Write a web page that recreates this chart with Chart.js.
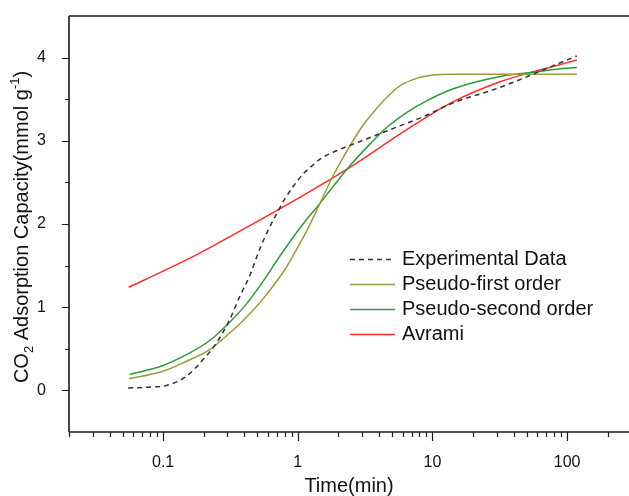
<!DOCTYPE html>
<html>
<head>
<meta charset="utf-8">
<script src="https://cdn.jsdelivr.net/npm/chart.js@4.4.1/dist/chart.umd.min.js"></script>
<style>
html, body { margin: 0; padding: 0; background: #fff; overflow: hidden; }
canvas { display: block; }
</style>
</head>
<body>
<canvas id="canvas-kinetics" width="629" height="496"></canvas>
<script>
// values (time in min, uptake in mmol/g)
var expTime = [0.055, 0.08, 0.106, 0.149, 0.198, 0.249, 0.312, 0.371, 0.44, 0.522, 0.60, 0.695, 0.80, 0.923, 1.094, 1.30, 1.46, 1.94, 2.58, 3.85, 5.73, 8.55, 13.5, 16.9, 26.8, 42.3, 59.5, 83.8, 118];
var expCO2  = [0.03, 0.04, 0.06, 0.17, 0.37, 0.57, 0.85, 1.13, 1.38, 1.70, 1.92, 2.12, 2.30, 2.45, 2.60, 2.71, 2.78, 2.88, 2.96, 3.07, 3.18, 3.29, 3.44, 3.50, 3.60, 3.72, 3.82, 3.92, 4.02];

var pfoTime = [0.0556, 0.0997, 0.149, 0.222, 0.312, 0.416, 0.552, 0.80, 1.0, 1.2, 1.415, 1.83, 2.44, 3.06, 3.63, 4.57, 5.73, 7.63, 10.1, 14.3, 30, 118];
var pfoCO2  = [0.14, 0.23, 0.35, 0.49, 0.69, 0.88, 1.10, 1.45, 1.72, 1.96, 2.20, 2.58, 2.94, 3.19, 3.34, 3.52, 3.66, 3.75, 3.79, 3.80, 3.80, 3.80];

var psoTime = [0.0564, 0.0997, 0.149, 0.222, 0.312, 0.416, 0.552, 0.777, 1.094, 1.415, 1.83, 2.5, 3.43, 4.57, 6.43, 9.05, 13.5, 21.3, 33.6, 53.1, 83.8, 118];
var psoCO2  = [0.19, 0.30, 0.43, 0.60, 0.82, 1.04, 1.31, 1.67, 2.00, 2.22, 2.45, 2.72, 2.96, 3.16, 3.34, 3.48, 3.61, 3.71, 3.78, 3.82, 3.86, 3.88];

var avrTime = [0.0555, 0.0991, 0.187, 0.44, 1.035, 2.44, 5.73, 13.5, 31.8, 63, 118];
var avrCO2  = [1.24, 1.43, 1.65, 1.98, 2.32, 2.68, 3.08, 3.45, 3.71, 3.85, 3.97];

var seriesLabels = ['Experimental Data', 'Pseudo-first order', 'Pseudo-second order', 'Avrami'];
var seriesColors = ['#333333', '#9c9a3a', '#2e9a3c', '#ff2b2b'];

var xMajor = [0.1, 1, 10, 100];
var xMinor = [0.02, 0.03, 0.04, 0.05, 0.06, 0.07, 0.08, 0.09,
              0.2, 0.3, 0.4, 0.5, 0.6, 0.7, 0.8, 0.9,
              2, 3, 4, 5, 6, 7, 8, 9,
              20, 30, 40, 50, 60, 70, 80, 90, 200];
var yMajor = [0, 1, 2, 3, 4];
var yMinor = [0.5, 1.5, 2.5, 3.5];

function toPoints(xs, ys) {
    return xs.map(function (x, i) { return {x: x, y: ys[i]}; });
}

var FONT = '"Liberation Sans", Arial, sans-serif';

var axesPlugin = {
    id: 'axesPlugin',
    afterDraw: function (chart) {
        var ctx = chart.ctx, a = chart.chartArea;
        var xs = chart.scales.x, ys = chart.scales.y;
        ctx.save();
        ctx.strokeStyle = '#1c1c1c';
        ctx.lineWidth = 1.6;
        ctx.beginPath();
        ctx.moveTo(a.left, a.top); ctx.lineTo(a.right, a.top);
        ctx.moveTo(a.left, a.top); ctx.lineTo(a.left, a.bottom);
        ctx.moveTo(a.left, a.bottom); ctx.lineTo(a.right, a.bottom);
        ctx.stroke();

        ctx.lineWidth = 1.2;
        ctx.beginPath();
        xMajor.forEach(function (v) {
            var p = Math.round(xs.getPixelForValue(v)) + 0.5;
            ctx.moveTo(p, a.bottom); ctx.lineTo(p, a.bottom + 9);
        });
        xMinor.forEach(function (v) {
            var p = Math.round(xs.getPixelForValue(v)) + 0.5;
            ctx.moveTo(p, a.bottom); ctx.lineTo(p, a.bottom + 5);
        });
        yMajor.forEach(function (v) {
            var p = Math.round(ys.getPixelForValue(v)) + 0.5;
            ctx.moveTo(a.left - 7, p); ctx.lineTo(a.left, p);
        });
        yMinor.forEach(function (v) {
            var p = Math.round(ys.getPixelForValue(v)) + 0.5;
            ctx.moveTo(a.left - 4, p); ctx.lineTo(a.left, p);
        });
        ctx.stroke();

        // x title
        ctx.fillStyle = '#111';
        ctx.font = '20px ' + FONT;
        ctx.textAlign = 'center';
        ctx.textBaseline = 'middle';
        ctx.fillText('Time(min)', (a.left + a.right) / 2, 486);

        // y title with sub/superscript
        var parts = [
            {t: 'CO', f: '20px ', dy: 0},
            {t: '2', f: '13px ', dy: 5},
            {t: ' Adsorption Capacity(mmol g', f: '20px ', dy: 0},
            {t: '-1', f: '13px ', dy: -9},
            {t: ')', f: '20px ', dy: 0}
        ];
        var total = 0;
        parts.forEach(function (p) { ctx.font = p.f + FONT; p.w = ctx.measureText(p.t).width; total += p.w; });
        ctx.translate(28, 227);
        ctx.rotate(-Math.PI / 2);
        ctx.textAlign = 'left';
        ctx.textBaseline = 'alphabetic';
        var cx = -total / 2;
        parts.forEach(function (p) {
            ctx.font = p.f + FONT;
            ctx.fillText(p.t, cx, p.dy);
            cx += p.w;
        });
        ctx.restore();

        // legend
        ctx.save();
        ctx.font = '20px ' + FONT;
        ctx.textAlign = 'left';
        ctx.textBaseline = 'middle';
        chart.data.datasets.forEach(function (ds, i) {
            var y = 259 + i * 25;
            ctx.strokeStyle = ds.borderColor;
            ctx.lineWidth = 1.5;
            ctx.setLineDash(ds.borderDash || []);
            ctx.beginPath();
            ctx.moveTo(350, y + 0.5); ctx.lineTo(395, y + 0.5);
            ctx.stroke();
            ctx.setLineDash([]);
            ctx.fillStyle = '#111';
            ctx.fillText(ds.label, 402, y);
        });
        ctx.restore();
    }
};

function makeDataset(i, xs, ys) {
    return {
        label: seriesLabels[i],
        data: toPoints(xs, ys),
        borderColor: seriesColors[i],
        backgroundColor: seriesColors[i],
        borderWidth: 1.5,
        borderDash: i === 0 ? [5, 4] : [],
        pointRadius: 0,
        fill: false,
        cubicInterpolationMode: 'monotone'
    };
}

function noPadding(scale) {
    scale.paddingTop = 0;
    scale.paddingBottom = 0;
    scale.paddingLeft = 0;
    scale.paddingRight = 0;
}

var config = {
    type: 'line',
    data: {
        datasets: [
            makeDataset(0, expTime, expCO2),
            makeDataset(1, pfoTime, pfoCO2),
            makeDataset(2, psoTime, psoCO2),
            makeDataset(3, avrTime, avrCO2)
        ]
    },
    options: {
        responsive: false,
        animation: false,
        devicePixelRatio: 1,
        layout: { padding: { top: 16, left: 0, right: 0, bottom: 0 } },
        plugins: { legend: { display: false }, tooltip: { enabled: false } },
        scales: {
            x: {
                type: 'logarithmic',
                min: 0.02,
                max: 288,
                grid: { display: false },
                border: { display: false },
                afterBuildTicks: function (scale) {
                    scale.ticks = xMajor.map(function (v) { return {value: v}; });
                },
                afterFit: function (scale) { scale.height = 64; noPadding(scale); },
                ticks: {
                    autoSkip: false,
                    maxRotation: 0,
                    padding: 13,
                    color: '#111',
                    font: { family: FONT, size: 16 },
                    callback: function (value) { return String(value); }
                }
            },
            y: {
                min: -0.5,
                max: 4.5,
                grid: { display: false },
                border: { display: false },
                afterBuildTicks: function (scale) {
                    scale.ticks = yMajor.map(function (v) { return {value: v}; });
                },
                afterFit: function (scale) { scale.width = 69; noPadding(scale); },
                ticks: {
                    padding: 15,
                    color: '#111',
                    font: { family: FONT, size: 16 },
                    callback: function (value) { return String(value); }
                }
            }
        }
    },
    plugins: [axesPlugin]
};

var ctx = document.getElementById('canvas-kinetics');
window.kineticsChart = new Chart(ctx, config);
</script>
</body>
</html>
